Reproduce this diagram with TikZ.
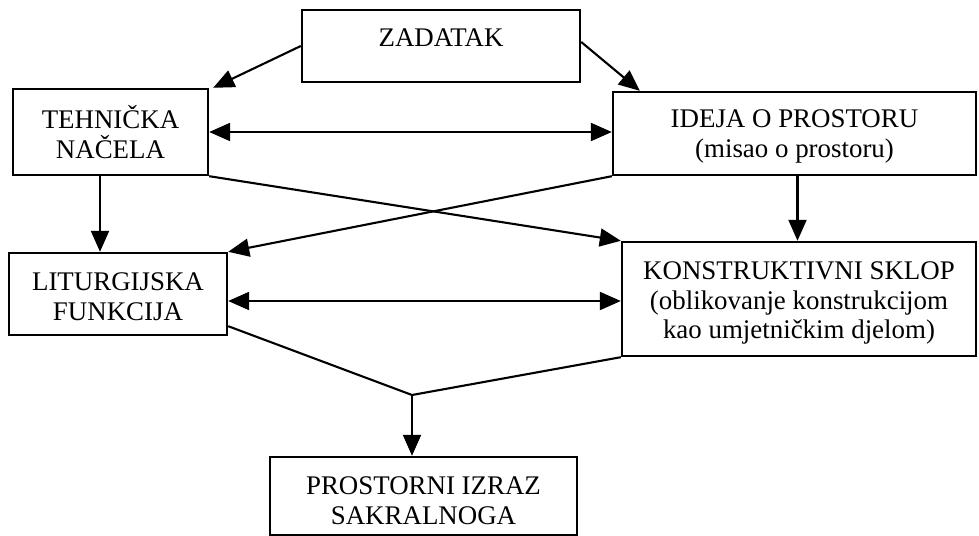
\documentclass[tikz,border=0pt]{standalone}
\usepackage{fontspec}
\setmainfont{Liberation Serif}
\usetikzlibrary{arrows.meta}
\begin{document}
\begin{tikzpicture}[x=1bp,y=-1bp,
  box/.style={draw, line width=2.4bp, rectangle, inner sep=0pt},
  txt/.style={align=center, inner sep=0pt, font=\fontsize{27}{30}\selectfont},
  tip/.style={Triangle[length=21bp,width=18bp]},
  arr/.style={line width=2.1bp, -{Triangle[length=21bp,width=18bp]}},
  arrb/.style={line width=2.1bp, {Triangle[length=21bp,width=18bp]}-{Triangle[length=21bp,width=18bp]}},
  ln/.style={line width=2.1bp}]
\useasboundingbox (0,0) rectangle (979,536);
\node[box, minimum width=278bp, minimum height=72bp] (zad) at (441,46) {};
\node[box, minimum width=195bp, minimum height=86bp] (teh) at (110.5,132) {};
\node[box, minimum width=363bp, minimum height=83bp] (ide) at (794.5,133.5) {};
\node[box, minimum width=218bp, minimum height=82bp] (lit) at (118,294) {};
\node[box, minimum width=354bp, minimum height=114bp] (kon) at (799,299) {};
\node[box, minimum width=307bp, minimum height=78bp] (pro) at (423.5,496) {};
\node[txt] (zadt) at ([yshift=8bp]zad.center) {ZADATAK};
\node[txt] (teht) at ([yshift=0bp]teh.center) {TEHNIČKA\\NAČELA};
\node[txt] (idet) at ([yshift=-3bp]ide.center) {IDEJA O PROSTORU\\(misao o prostoru)};
\node[txt] (litt) at ([yshift=-3bp]lit.center) {LITURGIJSKA\\FUNKCIJA};
\node[txt] (kont) at ([yshift=-4bp]kon.center) {KONSTRUKTIVNI SKLOP\\(oblikovanje konstrukcijom\\kao umjetničkim djelom)};
\node[txt] (prot) at ([yshift=-5bp]pro.center) {PROSTORNI IZRAZ\\SAKRALNOGA};
\coordinate (m) at (412,395);
\draw[arr] (zad.west) -- ([xshift=4bp]teh.north east);
\draw[arr] ([yshift=4bp]zad.east) -- ([xshift=28bp]ide.north west);
\draw[arrb] (teh.east) -- (teh.east -| ide.west);
\draw[arr] ([xshift=-10.5bp]teh.south) -- ([xshift=-10.5bp]teh.south |- lit.north);
\draw[arr] ([xshift=3bp]ide.south) -- ([xshift=3bp]ide.south |- kon.north);
\draw[arr] (teh.south east) -- (kon.north west);
\draw[arr] (ide.south west) -- (lit.north east);
\draw[arrb] ([yshift=-7bp]lit.east) -- ([yshift=-7bp]lit.east -| kon.west);
\draw[ln] ([yshift=10bp]lit.south east) -- (m) -- (kon.south west);
\draw[arr] (m) -- (m |- pro.north);
\end{tikzpicture}
\end{document}
